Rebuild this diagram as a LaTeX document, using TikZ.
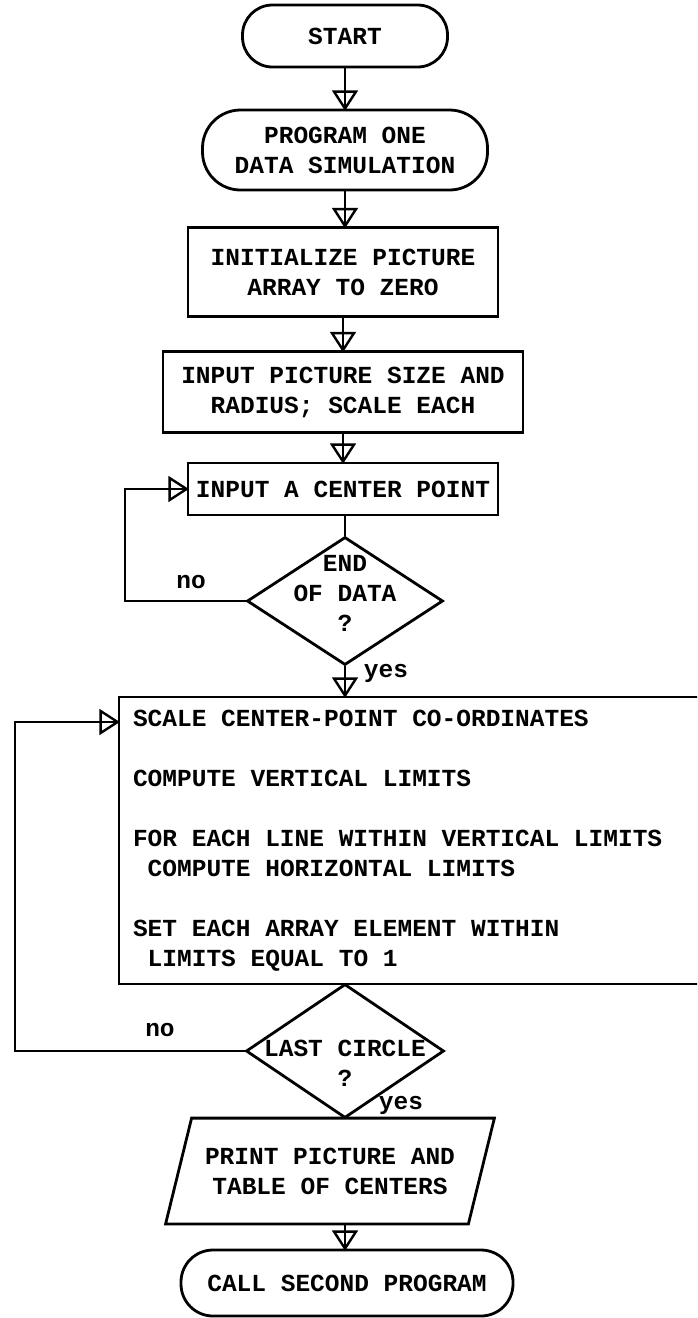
\documentclass[tikz,border=0pt]{standalone}
\usepackage{fontspec}
\newfontfamily\typew{Liberation Mono}
\usetikzlibrary{shapes.geometric,decorations.markings}
\newcommand\flowfont{\typew\bfseries\fontsize{12.25}{15}\selectfont}
\tikzset{
  base/.style={draw,line width=1.4pt,font=\flowfont,align=center,inner sep=0pt},
  term/.style={base,rounded corners=15pt},
  proc/.style={base,rectangle},
  decide/.style={base,diamond},
  lbl/.style={font=\flowfont,align=center,inner sep=1pt},
  flow/.style={line width=1.4pt,decoration={markings,mark=at position 1 with {
    \draw[line width=1.2pt,line join=miter] (0,0) -- (-8.5pt,5.5pt) -- (-8.5pt,-5.5pt) -- cycle;}},
    postaction=decorate},
  link/.style={line width=1.4pt}
}

\begin{document}
\begin{tikzpicture}[x=0.5pt,y=-0.5pt]
  \path[use as bounding box,clip] (0,0) rectangle (697,1318);

  % BOXES
  \node[term,minimum width=102.5pt,minimum height=31pt] (start) at (345,36) {START};
  \node[term,rounded corners=19pt,minimum width=142.5pt,minimum height=40pt] (prog) at (345,150)
    {PROGRAM ONE\\DATA SIMULATION};
  \node[proc,minimum width=155pt,minimum height=44.5pt] (init) at (343,272)
    {INITIALIZE PICTURE\\ARRAY TO ZERO};
  \node[proc,minimum width=180pt,minimum height=40.5pt] (size) at (343,392)
    {INPUT PICTURE SIZE AND\\RADIUS; SCALE EACH};
  \node[proc,minimum width=155pt,minimum height=26pt] (center) at (343,489) {INPUT A CENTER POINT};
  \node[decide,minimum width=98pt,minimum height=64pt,
    label={[lbl,yshift=4pt]center:END\\OF DATA\\?}] (endq) at (345,601) {};
  \node[proc,text width=290pt,align=flush left,inner xsep=7pt,minimum height=143.5pt] (scale) at (423,840.5)
    {SCALE CENTER-POINT CO-ORDINATES\\[15pt]
     COMPUTE VERTICAL LIMITS\\[15pt]
     FOR EACH LINE WITHIN VERTICAL LIMITS\\
     \hspace*{7.35pt}COMPUTE HORIZONTAL LIMITS\\[15pt]
     SET EACH ARRAY ELEMENT WITHIN\\
     \hspace*{7.35pt}LIMITS EQUAL TO 1};
  \node[decide,minimum width=99pt,minimum height=67pt,
    label={[lbl,yshift=-6pt]center:LAST CIRCLE\\?}] (lastq) at (345,1051) {};
  \node[base,draw=none,minimum width=150pt,minimum height=51.5pt] (print) at (330,1171)
    {PRINT PICTURE AND\\TABLE OF CENTERS};
  \draw[link,line join=miter]
    ([xshift=6.5pt]print.north west) -- ([xshift=6.5pt]print.north east) --
    ([xshift=-6.5pt]print.south east) -- ([xshift=-6.5pt]print.south west) -- cycle;
  \node[term,rounded corners=16pt,minimum width=166pt,minimum height=33pt] (call) at (347,1283)
    {CALL SECOND PROGRAM};

  % LOOP CORNERS
  \coordinate (loopa) at (125,601);
  \coordinate (loopb) at (15,1051);
  \coordinate (loopc) at (15,722);

  % CONNECTORS
  \draw[flow] (start) -- (prog);
  \draw[flow] (prog.south) -- (prog.south |- init.north);
  \draw[flow] (init) -- (size);
  \draw[flow] (size) -- (center);
  \draw[link] (center.south -| endq.north) -- (endq.north);
  \draw[flow] (endq.south) -- (endq.south |- scale.north);
  \draw[flow] (endq.west) -- (loopa) |- (center.west);
  \draw[flow] (lastq.west) -- (loopb) -- (loopc) -- (loopc -| scale.west);
  \draw[link] (lastq.south) -- (lastq.south |- print.north);
  \draw[flow] (print.south -| lastq.south) -- (lastq.south |- call.north);

  % LABELS
  \node[lbl] (no1) at (191,582) {no};
  \node[lbl] (yes1) at (386,673) {yes};
  \node[lbl] (no2) at (160,1030) {no};
  \node[lbl] (yes2) at (401,1105) {yes};
\end{tikzpicture}
\end{document}
